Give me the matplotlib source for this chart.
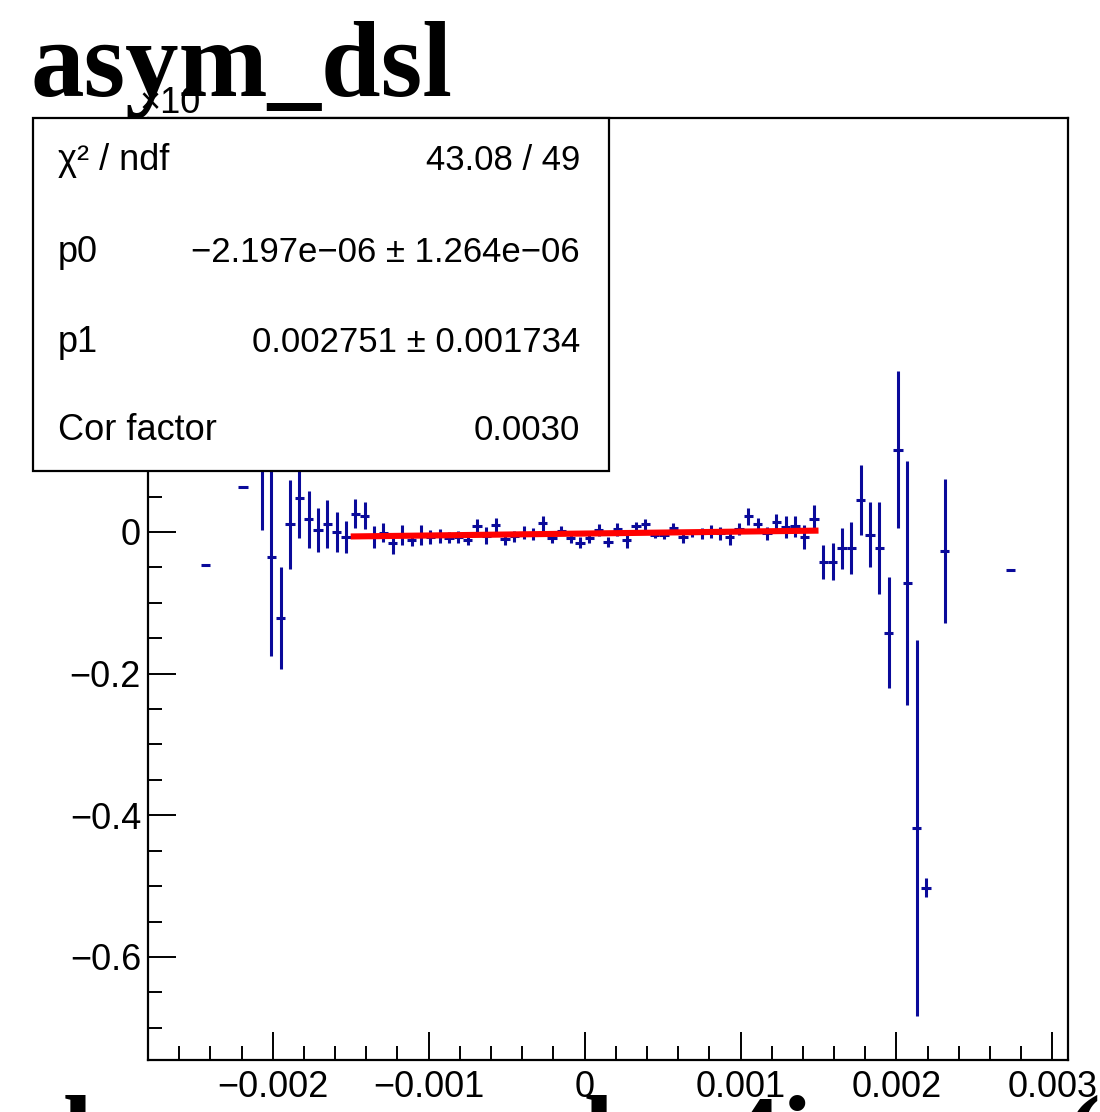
import numpy as np
import matplotlib
matplotlib.use("Agg")
import matplotlib.pyplot as plt
from matplotlib.patches import Rectangle
from matplotlib.ticker import MultipleLocator, FixedLocator, FixedFormatter

# bin centres (x) and asymmetry (y, in units of 1e-3) with errors
x = [-0.00243, -0.00219, -0.00207, -0.00201, -0.00195, -0.00189, -0.00183,
     -0.00177, -0.00171, -0.00165, -0.00159, -0.00153, -0.00147, -0.00141,
     -0.00135, -0.00129, -0.00123, -0.00117, -0.00111, -0.00105, -0.00099,
     -0.00093, -0.00087, -0.00081, -0.00075, -0.00069, -0.00063, -0.00057,
     -0.00051, -0.00045, -0.00039, -0.00033, -0.00027, -0.00021, -0.00015,
     -0.00009, -0.00003, 0.00003, 0.00009, 0.00015, 0.00021, 0.00027,
     0.00033, 0.00039, 0.00045, 0.00051, 0.00057, 0.00063, 0.00069, 0.00075,
     0.00081, 0.00087, 0.00093, 0.00099, 0.00105, 0.00111, 0.00117, 0.00123,
     0.00129, 0.00135, 0.00141, 0.00147, 0.00153, 0.00159, 0.00165, 0.00171,
     0.00177, 0.00183, 0.00189, 0.00195, 0.00201, 0.00207, 0.00213, 0.00219,
     0.00231, 0.00273]
y = [-0.046, 0.064, 0.200, -0.035, -0.121, 0.011, 0.048,
     0.018, 0.003, 0.011, 0.000, -0.007, 0.026, 0.023,
     -0.007, -0.001, -0.016, -0.004, -0.011, -0.004, -0.007,
     -0.006, -0.008, -0.007, -0.011, 0.008, -0.005, 0.010,
     -0.010, -0.006, -0.001, -0.003, 0.012, -0.009, 0.002,
     -0.009, -0.015, -0.008, 0.003, -0.014, 0.004, -0.011,
     0.008, 0.011, -0.004, -0.004, 0.005, -0.007, -0.002, -0.002,
     0.001, -0.002, -0.007, 0.004, 0.022, 0.011, -0.002, 0.014,
     0.007, 0.008, -0.007, 0.019, -0.042, -0.042, -0.023, -0.023,
     0.045, -0.004, -0.023, -0.142, 0.116, -0.072, -0.418, -0.502,
     -0.027, -0.054]
yerr = [0.0, 0.0, 0.197, 0.140, 0.072, 0.063, 0.057,
        0.040, 0.031, 0.034, 0.028, 0.023, 0.020, 0.019,
        0.016, 0.013, 0.015, 0.014, 0.009, 0.014, 0.010,
        0.010, 0.008, 0.008, 0.008, 0.010, 0.012, 0.010,
        0.008, 0.008, 0.009, 0.009, 0.010, 0.007, 0.006,
        0.007, 0.008, 0.007, 0.008, 0.007, 0.009, 0.011,
        0.006, 0.008, 0.005, 0.006, 0.007, 0.009, 0.005, 0.008,
        0.009, 0.009, 0.011, 0.008, 0.012, 0.009, 0.009, 0.012,
        0.015, 0.015, 0.017, 0.019, 0.024, 0.026, 0.029, 0.037,
        0.049, 0.046, 0.065, 0.078, 0.111, 0.172, 0.266, 0.013,
        0.102, 0.0]
half_bin = 0.00003

# fit result
p0 = -2.197e-06
p1 = 0.002751
fit_range = [-0.0015, 0.0015]

stat_names = ["\u03c7\u00b2 / ndf", "p0", "p1", "Cor factor"]
stat_values = ["43.08 / 49",
               "\u22122.197e\u221206 \u00b1 1.264e\u221206",
               "0.002751 \u00b1 0.001734",
               "0.0030"]

xticks = [-0.002, -0.001, 0.0, 0.001, 0.002, 0.003]
xticklabels = ["\u22120.002", "\u22120.001", "0", "0.001", "0.002", "0.003"]
yticks = [-0.6, -0.4, -0.2, 0.0, 0.2, 0.4]
yticklabels = ["\u22120.6", "\u22120.4", "\u22120.2", "0", "0.2", "0.4"]

# tops of the oversized axis-title glyphs that poke in at the bottom edge
big_glyphs = ["b", "l", "4", "i", "("]
big_glyph_x = [64, 584, 726, 782, 1064]

W, H = 1100, 1112
plt.rcParams["font.family"] = ["Liberation Sans", "DejaVu Sans"]
fig = plt.figure(figsize=(W / 100, H / 100), dpi=100)
fig.patch.set_facecolor("white")

ax = fig.add_axes([148 / W, 1 - 1060 / H, (1068 - 148) / W, (1060 - 118) / H])
ax.errorbar(x, y, xerr=half_bin, yerr=yerr, fmt="none",
            ecolor="#0a0a9a", elinewidth=2.2, capsize=0, zorder=3)

fx = np.array(fit_range)
ax.plot(fx, 1000 * (p0 + p1 * fx), color="#ff0000", lw=4.4, zorder=4,
        solid_capstyle="butt")

ax.set_xlim(-0.0028, 0.0031)
ax.set_ylim(-0.7455, 0.5845)

ax.xaxis.set_major_locator(FixedLocator(xticks))
ax.xaxis.set_major_formatter(FixedFormatter(xticklabels))
ax.xaxis.set_minor_locator(MultipleLocator(0.0002))
ax.yaxis.set_major_locator(FixedLocator(yticks))
ax.yaxis.set_major_formatter(FixedFormatter(yticklabels))
ax.yaxis.set_minor_locator(MultipleLocator(0.05))

ax.tick_params(which="both", direction="in", top=False, right=False,
               labelsize=26, width=1.4, colors="black")
ax.tick_params(which="major", length=20)
ax.tick_params(which="minor", length=10)
ax.tick_params(axis="y", pad=5)
ax.tick_params(axis="x", pad=7)
for sp in ax.spines.values():
    sp.set_linewidth(1.6)

# stats box
bx0, bx1, by0, by1 = 33, 609, 118, 471
fig.add_artist(Rectangle((bx0 / W, 1 - by1 / H), (bx1 - bx0) / W, (by1 - by0) / H,
                         transform=fig.transFigure, facecolor="white",
                         edgecolor="black", lw=1.6, zorder=5))
rows = [160, 252, 342, 430]
for name, val, ry in zip(stat_names, stat_values, rows):
    fig.text(58 / W, 1 - ry / H, name, fontsize=26, va="center", ha="left", zorder=6)
    fig.text(580 / W, 1 - ry / H, val, fontsize=25, va="center", ha="right", zorder=6)

# exponent label and title
fig.text(140 / W, 1 - 113 / H, "\u00d710", fontsize=26, va="baseline", ha="left", zorder=6)
fig.text(30 / W, 1 - 96 / H, "asym_dsl", fontsize=77, fontweight="bold",
         family="Liberation Serif", va="baseline", ha="left", zorder=7)

for g, gx in zip(big_glyphs, big_glyph_x):
    fig.text(gx / W, 1 - 1170 / H, g, fontsize=77, fontweight="bold",
             family="Liberation Serif", va="baseline", ha="left", zorder=7)

fig.savefig("out.png", dpi=100)
